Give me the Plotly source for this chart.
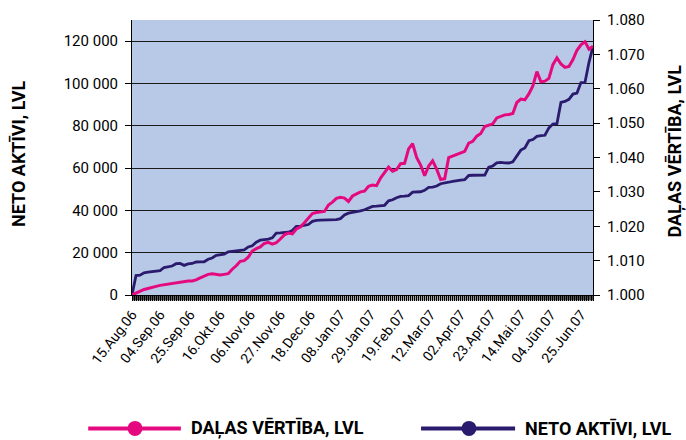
import plotly.graph_objects as go
import pandas as pd

# ---- data ----
start_date = "2006-08-15"
n_business_days = 231
all_days = [d.strftime("%Y-%m-%d") for d in pd.bdate_range(start_date, periods=n_business_days)]
# one reading every 2nd business day
dates = all_days[::2]

neto_aktivi = [
    0, 9200, 9400, 10500, 10800, 11000, 11200, 11500, 13000, 13400,
    13700, 14800, 14900, 14000, 14700, 14900, 15600, 15700, 15700, 16900,
    17500, 18700, 19000, 19300, 20400, 20600, 20800, 21000, 21300, 22700,
    23300, 25000, 25900, 26200, 26400, 27000, 29300, 29400, 29600, 29700,
    30500, 32500, 32600, 32800, 33300, 34800, 35300, 35400, 35500, 35500,
    35500, 35600, 36100, 37800, 38700, 39000, 39500, 39800, 40300, 41000,
    41900, 42000, 42100, 42400, 44500, 45000, 46000, 46600, 46700, 47000,
    48600, 48700, 48800, 49500, 50900, 51000, 51500, 52600, 52800, 53300,
    53700, 54100, 54300, 54500, 56500, 56600, 56600, 56700, 56700, 60400,
    61000, 62500, 62700, 62500, 62400, 63000, 65500, 68500, 69500, 72900,
    73500, 75000, 75300, 75500, 79000, 80800, 81000, 91000, 91500, 92500,
    95000, 95500, 100400, 100500, 110000, 117500,
]

dalas_vertiba = [
    1.0000, 1.0006, 1.0012, 1.0016, 1.0019, 1.0021, 1.0025, 1.0028, 1.0030, 1.0033,
    1.0035, 1.0037, 1.0039, 1.0040, 1.0041, 1.0041, 1.0044, 1.0050, 1.0055, 1.0060,
    1.0062, 1.0059, 1.0058, 1.0060, 1.0062, 1.0075, 1.0085, 1.0098, 1.0100, 1.0110,
    1.0128, 1.0135, 1.0140, 1.0150, 1.0153, 1.0148, 1.0152, 1.0163, 1.0175, 1.0180,
    1.0178, 1.0192, 1.0198, 1.0210, 1.0222, 1.0237, 1.0240, 1.0242, 1.0243, 1.0262,
    1.0270, 1.0281, 1.0284, 1.0282, 1.0272, 1.0288, 1.0295, 1.0300, 1.0302, 1.0316,
    1.0320, 1.0318, 1.0340, 1.0355, 1.0372, 1.0360, 1.0365, 1.0382, 1.0383, 1.0425,
    1.0440, 1.0400, 1.0378, 1.0347, 1.0375, 1.0390, 1.0366, 1.0336, 1.0338, 1.0400,
    1.0405, 1.0408, 1.0415, 1.0418, 1.0442, 1.0447, 1.0462, 1.0470, 1.0490, 1.0495,
    1.0498, 1.0515, 1.0520, 1.0524, 1.0525, 1.0528, 1.0560, 1.0570, 1.0568, 1.0585,
    1.0608, 1.0650, 1.0620, 1.0622, 1.0630, 1.0670, 1.0690, 1.0672, 1.0662, 1.0665,
    1.0685, 1.0712, 1.0728, 1.0737, 1.0715, 1.0724,
]

tick_dates = [
    "2006-08-15", "2006-09-04", "2006-09-25", "2006-10-16", "2006-11-06",
    "2006-11-27", "2006-12-18", "2007-01-08", "2007-01-29", "2007-02-19",
    "2007-03-12", "2007-04-02", "2007-04-23", "2007-05-14", "2007-06-04",
    "2007-06-25",
]
tick_labels = [
    "15.Aug.06", "04.Sep.06", "25.Sep.06", "16.Okt.06", "06.Nov.06",
    "27.Nov.06", "18.Dec.06", "08.Jan.07", "29.Jan.07", "19.Feb.07",
    "12.Mar.07", "02.Apr.07", "23.Apr.07", "14.Mai.07", "04.Jūn.07",
    "25.Jun.07",
]
left_ticks = [0, 20000, 40000, 60000, 80000, 100000, 120000]
right_ticks = [1.000, 1.010, 1.020, 1.030, 1.040, 1.050, 1.060, 1.070, 1.080]

series_names = ["DAĻAS VĒRTĪBA, LVL", "NETO AKTĪVI, LVL"]
pink = "#E5097F"
navy = "#2A1B6E"

FONT = "Roboto"

# label only on the listed dates
label_map = dict(zip(tick_dates, tick_labels))
x_ticktext = [label_map.get(d, "") for d in all_days]

fig = go.Figure()
fig.add_trace(go.Scatter(
    x=dates, y=neto_aktivi, name=series_names[1], mode="lines",
    line=dict(color=navy, width=2.8), yaxis="y",
))
fig.add_trace(go.Scatter(
    x=dates, y=dalas_vertiba, name=series_names[0], mode="lines",
    line=dict(color=pink, width=3), yaxis="y2",
))

shapes = []
annotations = []

# comb of small tick marks under the x axis, one per business day
tick_len_paper = 5.5 / 275
for d in all_days:
    shapes.append(dict(type="line", xref="x", yref="paper", layer="above",
                       x0=d, x1=d, y0=-0.002, y1=-tick_len_paper,
                       line=dict(color="black", width=1.4)))

# manual legend (wide line symbol with dot)
legend_y = -0.485
legend_items = [
    (series_names[0], pink, -0.095, 0.106, 0.0065, 0.124),
    (series_names[1], navy, 0.627, 0.831, 0.731, 0.848),
]
for name, col, lx0, lx1, mx, tx in legend_items:
    shapes.append(dict(type="line", xref="paper", yref="paper",
                       x0=lx0, x1=lx1, y0=legend_y, y1=legend_y,
                       line=dict(color=col, width=4)))
    shapes.append(dict(type="circle", xref="paper", yref="paper",
                       xsizemode="pixel", ysizemode="pixel",
                       xanchor=mx, yanchor=legend_y,
                       x0=-7.5, x1=7.5, y0=-7.5, y1=7.5,
                       fillcolor=col, line=dict(color=col, width=0)))
    annotations.append(dict(text=name, xref="paper", yref="paper",
                            x=tx, y=legend_y, xanchor="left", yanchor="middle",
                            showarrow=False,
                            font=dict(family=FONT, size=18, color="black", weight="bold")))

annotations.append(dict(text=series_names[1], xref="paper", yref="paper",
                        x=-0.245, y=0.513, textangle=-90, showarrow=False,
                        xanchor="center", yanchor="middle",
                        font=dict(family=FONT, size=18, color="black", weight="bold")))
annotations.append(dict(text=series_names[0], xref="paper", yref="paper",
                        x=1.178, y=0.522, textangle=-90, showarrow=False,
                        xanchor="center", yanchor="middle",
                        font=dict(family=FONT, size=18, color="black", weight="bold")))

fig.update_layout(
    width=686, height=440, autosize=False,
    margin=dict(l=132, r=93, t=20, b=145),
    paper_bgcolor="white",
    plot_bgcolor="#B8C9E7",
    separators=". ",
    showlegend=False,
    font=dict(family=FONT, size=15, color="black"),
    shapes=shapes,
    annotations=annotations,
    xaxis=dict(
        type="category",
        categoryorder="array", categoryarray=all_days,
        range=[0, len(all_days) - 1],
        tickmode="array", tickvals=all_days, ticktext=x_ticktext,
        tickangle=-52,
        tickfont=dict(family=FONT, size=14),
        ticks="outside", ticklen=5, tickcolor="black", tickwidth=1.4,
        showgrid=False, zeroline=False, automargin=False,
        showline=True, linecolor="black", linewidth=1,
    ),
    yaxis=dict(
        range=[0, 130000], tickvals=left_ticks, tickformat=",d",
        ticks="outside", ticklen=6, tickcolor="black",
        showgrid=True, gridcolor="#1a1a1a", gridwidth=1, zeroline=False,
        showline=True, linecolor="black", linewidth=1,
        tickfont=dict(family=FONT, size=15), automargin=False,
        ticklabelstandoff=4,
    ),
    yaxis2=dict(
        range=[1.0, 1.08], tickvals=right_ticks, tickformat=".3f",
        overlaying="y", side="right",
        ticks="outside", ticklen=6, tickcolor="black",
        showgrid=False, zeroline=False, automargin=False,
        showline=True, linecolor="black", linewidth=1,
        tickfont=dict(family=FONT, size=15),
        ticklabelstandoff=4,
    ),
)

fig.write_html(
    "out.html",
    config={"displayModeBar": False},
    post_script="document.body.style.margin='0';document.body.style.padding='0';",
)
